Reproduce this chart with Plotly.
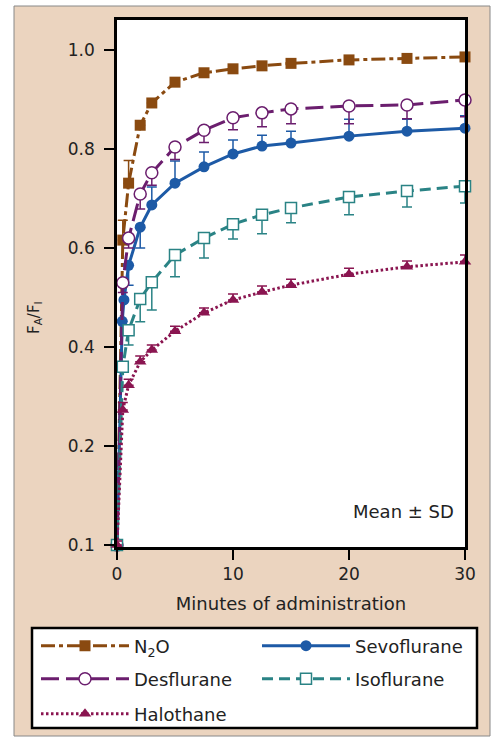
import plotly.graph_objects as go

# ---- data ----
t_common = [0, 0.5, 1, 2, 3, 5, 7.5, 10, 12.5, 15, 20, 25, 30]

n2o_t = t_common
n2o_v = [0, 0.616, 0.731, 0.848, 0.893, 0.935, 0.954, 0.962, 0.968, 0.973, 0.980, 0.983, 0.986]
n2o_up = [0, 0.04, 0.046, 0, 0, 0, 0, 0, 0, 0, 0, 0, 0]

sevo_t = [0, 0.45, 0.6, 1, 2, 3, 5, 7.5, 10, 12.5, 15, 20, 25, 30]
sevo_v = [0, 0.452, 0.495, 0.565, 0.642, 0.687, 0.731, 0.764, 0.790, 0.806, 0.812, 0.826, 0.836, 0.842]
sevo_up = [0, 0, 0, 0, 0, 0.036, 0.045, 0.030, 0.028, 0.022, 0.024, 0.034, 0.024, 0.025]
sevo_dn = [0, 0, 0, 0.040, 0.042, 0, 0, 0, 0, 0, 0, 0, 0, 0]

des_t = t_common
des_v = [0, 0.53, 0.62, 0.709, 0.752, 0.804, 0.838, 0.863, 0.873, 0.881, 0.887, 0.889, 0.899]
des_dn = [0, 0.02, 0.02, 0.03, 0.025, 0.025, 0.025, 0.024, 0.028, 0.03, 0.036, 0.028, 0.034]

iso_t = t_common
iso_v = [0, 0.36, 0.434, 0.497, 0.531, 0.586, 0.620, 0.648, 0.667, 0.681, 0.703, 0.715, 0.725]
iso_dn = [0, 0.01, 0.03, 0.046, 0.056, 0.044, 0.04, 0.03, 0.038, 0.03, 0.036, 0.032, 0.034]

hal_t = t_common
hal_v = [0, 0.273, 0.323, 0.370, 0.394, 0.432, 0.469, 0.495, 0.511, 0.525, 0.547, 0.562, 0.572]
hal_up = [0.008, 0.015, 0.012, 0.012, 0.01, 0.01, 0.01, 0.012, 0.012, 0.012, 0.012, 0.012, 0.014]

y_tickvals = [0, 0.2, 0.4, 0.6, 0.8, 1.0]
y_ticktext = ["0.1", "0.2", "0.4", "0.6", "0.8", "1.0"]
x_tickvals = [0, 10, 20, 30]

# ---- styles ----
C_N2O = "#8a4a10"
C_SEVO = "#1d5aa6"
C_DES = "#6b1e6e"
C_ISO = "#2a8385"
C_HAL = "#8a1550"
TAN = "#ebd4bf"
FONT = "DejaVu Sans"

W, H = 495, 740
L, R, T, B = 117, 30, 20, 193
PW, PH = W - L - R, H - T - B


def px_x(x):
    return (x - L) / PW


def px_y(y):
    return (H - B - y) / PH


fig = go.Figure()

fig.add_trace(go.Scatter(
    x=n2o_t, y=n2o_v, name="N<sub>2</sub>O", mode="lines+markers",
    line=dict(color=C_N2O, width=3, dash="14px,4px,4px,4px"),
    marker=dict(symbol="square", size=11, color=C_N2O),
    error_y=dict(type="data", symmetric=False, array=n2o_up, arrayminus=[0]*len(n2o_up),
                 color=C_N2O, thickness=1.5, width=5),
    cliponaxis=False, legend="legend"))

fig.add_trace(go.Scatter(
    x=sevo_t, y=sevo_v, name="Sevoflurane", mode="lines+markers",
    line=dict(color=C_SEVO, width=3),
    marker=dict(symbol="circle", size=11, color=C_SEVO),
    error_y=dict(type="data", symmetric=False, array=sevo_up, arrayminus=sevo_dn,
                 color=C_SEVO, thickness=1.5, width=5),
    cliponaxis=False, legend="legend"))

fig.add_trace(go.Scatter(
    x=des_t, y=des_v, name="Desflurane", mode="lines+markers",
    line=dict(color=C_DES, width=3, dash="18px,7px"),
    marker=dict(symbol="circle", size=12, color="white", line=dict(color=C_DES, width=1.5)),
    error_y=dict(type="data", symmetric=False, array=[0]*len(des_dn), arrayminus=des_dn,
                 color=C_DES, thickness=1.5, width=5),
    cliponaxis=False, legend="legend2"))

fig.add_trace(go.Scatter(
    x=iso_t, y=iso_v, name="Isoflurane", mode="lines+markers",
    line=dict(color=C_ISO, width=3, dash="11px,6px"),
    marker=dict(symbol="square", size=11, color="white", line=dict(color=C_ISO, width=1.5)),
    error_y=dict(type="data", symmetric=False, array=[0]*len(iso_dn), arrayminus=iso_dn,
                 color=C_ISO, thickness=1.5, width=5),
    cliponaxis=False, legend="legend2"))

fig.add_trace(go.Scatter(
    x=hal_t, y=hal_v, name="Halothane", mode="lines+markers",
    line=dict(color=C_HAL, width=3, dash="2.5px,2.5px"),
    marker=dict(symbol="triangle-up", size=11, color=C_HAL),
    error_y=dict(type="data", symmetric=False, array=hal_up, arrayminus=[0]*len(hal_up),
                 color=C_HAL, thickness=1.5, width=5),
    cliponaxis=False, legend="legend3"))

leg_common = dict(orientation="h", xanchor="left", yanchor="middle",
                  bgcolor="rgba(0,0,0,0)", borderwidth=0, itemwidth=88,
                  entrywidth=118, entrywidthmode="pixels",
                  font=dict(family=FONT, size=18, color="#222"),
                  itemclick=False, itemdoubleclick=False)

fig.update_layout(
    width=W, height=H,
    margin=dict(l=L, r=R, t=T, b=B, autoexpand=False),
    paper_bgcolor="white", plot_bgcolor="white",
    font=dict(family=FONT, size=17, color="#222"),
    legend=dict(x=px_x(36), y=px_y(646), **leg_common),
    legend2=dict(x=px_x(36), y=px_y(679), **leg_common),
    legend3=dict(x=px_x(36), y=px_y(714), **leg_common),
    xaxis=dict(range=[0, 30], tickvals=x_tickvals, ticks="outside", ticklen=10, tickwidth=1.5,
               tickcolor="black", showline=True, linecolor="black", linewidth=2.5, mirror=True,
               showgrid=False, zeroline=False,
               tickfont=dict(family=FONT, size=17, color="#222"),
               title=dict(text="Minutes of administration", standoff=15,
                          font=dict(family=FONT, size=18, color="#222"))),
    yaxis=dict(range=[-0.004, 1.0606], tickvals=y_tickvals, ticktext=y_ticktext,
               ticks="outside", ticklen=10, tickwidth=1.5, tickcolor="black",
               showline=True, linecolor="black", linewidth=2.5, mirror=True,
               showgrid=False, zeroline=False, ticklabelstandoff=6,
               tickfont=dict(family=FONT, size=17, color="#222")),
    shapes=[
        dict(type="rect", xref="paper", yref="paper", layer="below",
             x0=px_x(14), x1=px_x(490), y0=px_y(736), y1=px_y(6),
             fillcolor=TAN, line=dict(color="#888", width=1)),
        dict(type="rect", xref="paper", yref="paper", layer="below",
             x0=0, x1=1, y0=0, y1=1, fillcolor="white", line=dict(width=0)),
        dict(type="rect", xref="paper", yref="paper", layer="below",
             x0=px_x(32), x1=px_x(477), y0=px_y(728), y1=px_y(628),
             fillcolor="white", line=dict(color="black", width=2.5)),
    ],
    annotations=[
        dict(text="Mean ± SD", xref="paper", yref="paper",
             x=px_x(456), y=px_y(511), xanchor="right", yanchor="middle",
             showarrow=False, font=dict(family=FONT, size=18, color="#222")),
        dict(text="F<sub>A</sub>/F<sub>I</sub>", xref="paper", yref="paper",
             x=px_x(34), y=px_y(318), xanchor="center", yanchor="middle", textangle=-90,
             showarrow=False, font=dict(family=FONT, size=15, color="#222")),
    ],
)

fig.write_html("out.html")
